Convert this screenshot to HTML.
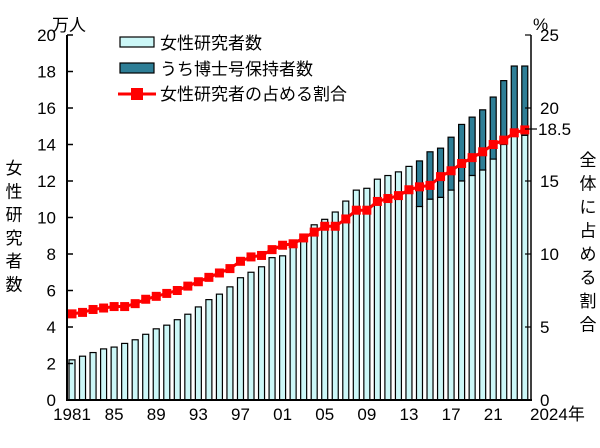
<!DOCTYPE html>
<html><head><meta charset="utf-8"><style>
html,body{margin:0;padding:0;background:#fff;}
text{font-family:"Liberation Sans","Noto Sans CJK JP",sans-serif;fill:#000;}
</style></head><body>
<svg width="600" height="443" viewBox="0 0 600 443" xmlns="http://www.w3.org/2000/svg">
<g id="bars"></g>
<g id="line"></g>
<line x1="67" y1="35" x2="67" y2="400" stroke="#000" stroke-width="2"/>
<line x1="531" y1="35" x2="531" y2="400" stroke="#000" stroke-width="1.5"/>
<line x1="66" y1="400" x2="532" y2="400" stroke="#000" stroke-width="2"/>
<g id="ticks"></g>
<g font-size="17">
<text x="52" y="31">万人</text>
<text x="533" y="30" >%</text>
</g>
<g id="lab" font-size="17"></g>
<g font-size="17">
<text x="530" y="420">2024年</text>
<text x="538" y="135">18.5</text>
</g>
<line x1="525" y1="129" x2="537" y2="129" stroke="#000" stroke-width="1.2"/>
<rect x="120" y="37" width="34" height="10" fill="#ccf7f7" stroke="#000" stroke-width="1.2"/>
<rect x="120" y="63" width="34" height="10" fill="#2e7e96" stroke="#000" stroke-width="1.2"/>
<line x1="118" y1="94" x2="156" y2="94" stroke="#f00" stroke-width="3"/>
<rect x="131" y="88" width="12" height="12" fill="#f00"/>
<g font-size="17">
<text x="160" y="49">女性研究者数</text>
<text x="160" y="75">うち博士号保持者数</text>
<text x="160" y="100">女性研究者の占める割合</text>
</g>
</svg>
<script>
const ns="http://www.w3.org/2000/svg";
function el(p,t,a,txt){const e=document.createElementNS(ns,t);for(const k in a)e.setAttribute(k,a[k]);if(txt!==undefined)e.textContent=txt;document.getElementById(p).appendChild(e);}
const tot=[2.2,2.4,2.6,2.8,2.9,3.1,3.3,3.6,3.9,4.1,4.4,4.7,5.1,5.5,5.8,6.2,6.7,7.0,7.3,7.8,7.9,8.6,8.9,9.6,9.9,10.3,10.9,11.5,11.6,12.1,12.3,12.5,12.8,13.1,13.6,13.8,14.4,15.1,15.5,15.9,16.6,17.5,18.3,18.3];
const light={2014:10.6,2015:11.0,2016:11.1,2017:11.5,2018:12.0,2019:12.3,2020:12.6,2021:13.2,2022:14.0,2023:14.5,2024:14.5};
const pct=[5.9,6.0,6.2,6.3,6.4,6.4,6.6,6.9,7.1,7.3,7.5,7.8,8.1,8.4,8.7,9.0,9.5,9.8,9.9,10.3,10.6,10.7,11.1,11.5,11.9,11.9,12.4,13.0,13.0,13.6,13.8,14.0,14.4,14.6,14.7,15.3,15.7,16.2,16.6,17.0,17.5,17.8,18.3,18.5];
const X=i=>72+i*10.53, Y=v=>400-v*18.25, P=v=>400-v*14.6;
tot.forEach((v,i)=>{const yr=1981+i;const x=X(i)-3;
 if(light[yr]){el('bars','rect',{x:x,y:Y(v),width:6,height:v*18.25-light[yr]*18.25,fill:'#2e7e96',stroke:'#000','stroke-width':1.2});
  el('bars','rect',{x:x,y:Y(light[yr]),width:6,height:light[yr]*18.25,fill:'#ccf7f7',stroke:'#000','stroke-width':1.2});}
 else el('bars','rect',{x:x,y:Y(v),width:6,height:v*18.25,fill:'#ccf7f7',stroke:'#000','stroke-width':1.2});});
el('line','polyline',{points:pct.map((v,i)=>X(i)+','+P(v)).join(' '),fill:'none',stroke:'#f00','stroke-width':3});
pct.forEach((v,i)=>el('line','rect',{x:X(i)-4.5,y:P(v)-4.5,width:9,height:9,fill:'#f00'}));
for(let v=0;v<=20;v+=2){el('ticks','line',{x1:67,x2:73,y1:Y(v),y2:Y(v),stroke:'#000','stroke-width':1.5});el('lab','text',{x:56,y:Y(v)+6,'text-anchor':'end'},v);}
for(let v=0;v<=25;v+=5){el('ticks','line',{x1:525,x2:531,y1:P(v),y2:P(v),stroke:'#000','stroke-width':1.2});el('lab','text',{x:540,y:P(v)+6},v);}
[["1981",0],["85",4],["89",8],["93",12],["97",16],["01",20],["05",24],["09",28],["13",32],["17",36],["21",40]].forEach(([t,i])=>el('lab','text',{x:X(i),y:420,'text-anchor':'middle'},t));
"女性研究者数".split('').forEach((c,i)=>el('lab','text',{x:14,y:174+i*23.3,'text-anchor':'middle'},c));
"全体に占める割合".split('').forEach((c,i)=>el('lab','text',{x:588,y:166+i*23.5,'text-anchor':'middle'},c));
</script>
</body></html>
